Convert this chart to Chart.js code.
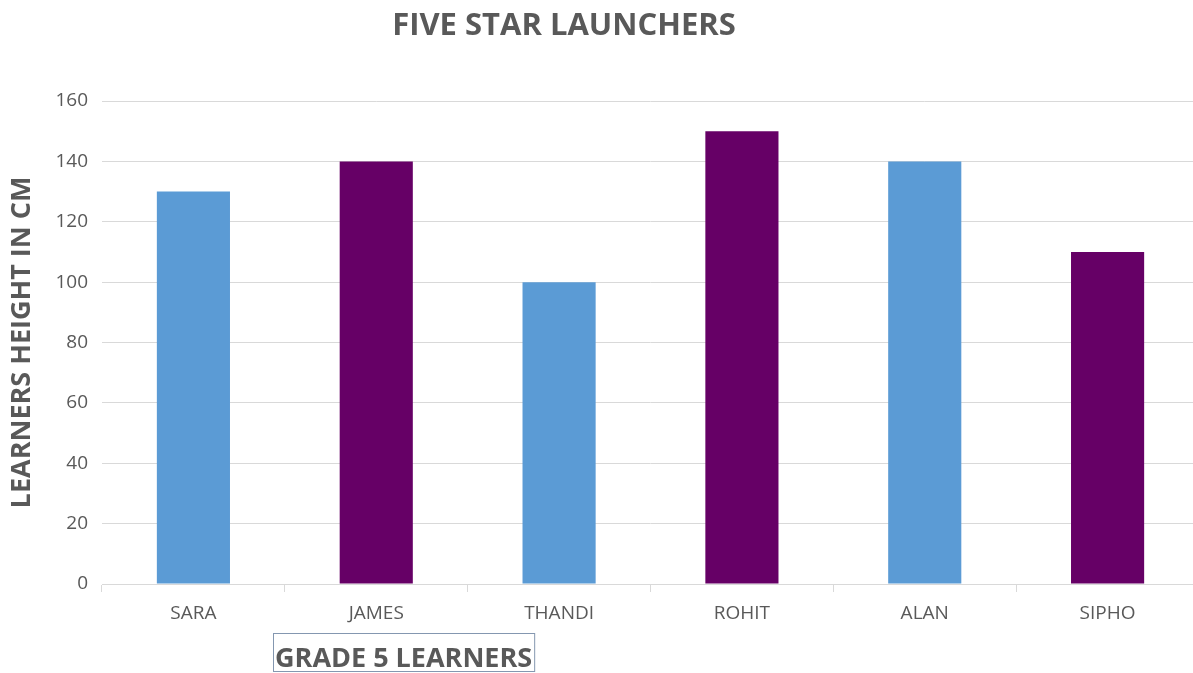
<!DOCTYPE html>
<html>
<head>
<meta charset="utf-8">
<script src="https://cdn.jsdelivr.net/npm/chart.js@4.4.1/dist/chart.umd.min.js"></script>
<style>
  html, body { margin:0; padding:0; background:#fff; overflow:hidden; }
  /* slightly wider than the window: the source image cuts the plot at the right */
  #wrap { width:1199px; height:673px; position:relative; }
</style>
</head>
<body>
<div id="wrap"><canvas id="c"></canvas></div>
<script>
// chart data
const learners = ['SARA', 'JAMES', 'THANDI', 'ROHIT', 'ALAN', 'SIPHO'];
const heights = [130, 140, 100, 150, 140, 110];
const barColors = ['#5b9bd5', '#660066', '#5b9bd5', '#660066', '#5b9bd5', '#660066'];
const yTicks = [0, 20, 40, 60, 80, 100, 120, 140, 160];

const chartTitle = 'FIVE STAR LAUNCHERS';
const yTitle = 'LEARNERS HEIGHT IN CM';
const xTitle = 'GRADE 5 LEARNERS';

const gray = '#595959';

// chart title (sits left of centre) and the boxed x axis title
const extraTitles = {
  id: 'extraTitles',
  afterDraw(chart){
    const ctx = chart.ctx, area = chart.chartArea;
    ctx.save();
    ctx.fillStyle = gray;
    ctx.textBaseline = 'alphabetic';

    ctx.font = 'bold 31px "Open Sans"';
    ctx.textAlign = 'center';
    ctx.fillText(chartTitle, 564, 35);

    ctx.textAlign = 'left';
    ctx.font = 'bold 27px "Open Sans"';
    const x = area.left + 171, w = ctx.measureText(xTitle).width;
    ctx.fillText(xTitle, x + 2, area.bottom + 83);
    ctx.strokeStyle = '#8497b0';
    ctx.lineWidth = 1;
    ctx.strokeRect(x + 0.5, area.bottom + 49.5, w + 4, 38);
    ctx.restore();
  }
};

new Chart(document.getElementById('c').getContext('2d'), {
  type: 'bar',
  data: {
    labels: learners,
    datasets: [{
      data: heights,
      backgroundColor: barColors,
      borderWidth: 0,
      barPercentage: 0.4,
      categoryPercentage: 1
    }]
  },
  options: {
    responsive: true,
    maintainAspectRatio: false,
    animation: false,
    layout: { padding: { left: 0, right: 0, top: 101, bottom: 0 } },
    plugins: {
      legend: { display: false },
      tooltip: { enabled: false },
      title: { display: false }
    },
    scales: {
      x: {
        afterFit(scale){ scale.height = 89; },
        grid: {
          display: true,
          drawOnChartArea: false,
          drawTicks: true,
          tickLength: 8,
          color: '#d9d9d9',
          offset: true
        },
        border: { display: true, color: '#d9d9d9', width: 1 },
        ticks: {
          color: gray,
          padding: 10,
          font: { family: 'Open Sans', size: 19 }
        }
      },
      y: {
        min: 0,
        max: 160,
        afterFit(scale){ scale.width = 102; },
        afterBuildTicks(scale){ scale.ticks = yTicks.map(v => ({ value: v })); },
        grid: { color: '#d9d9d9', drawTicks: false },
        border: { display: false },
        ticks: {
          color: gray,
          padding: 14,
          font: { family: 'Open Sans', size: 19 }
        },
        title: {
          display: true,
          text: yTitle,
          color: gray,
          font: { family: 'Open Sans', size: 27, weight: 'bold' },
          padding: { top: 6, bottom: 0 }
        }
      }
    }
  },
  plugins: [extraTitles]
});
</script>
</body>
</html>
